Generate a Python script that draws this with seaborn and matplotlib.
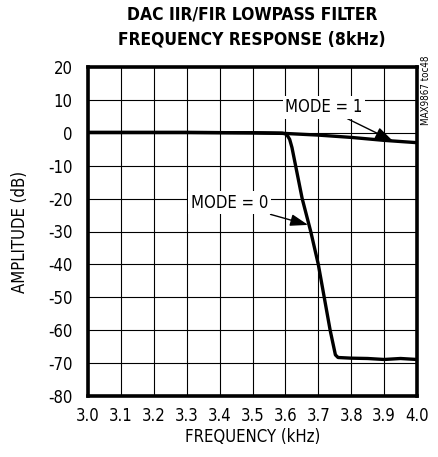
import matplotlib
matplotlib.use("Agg")
import matplotlib.pyplot as plt
import seaborn as sns
import pandas as pd

freq_mode1 = [3.00, 3.10, 3.20, 3.30, 3.40, 3.50, 3.60, 3.70, 3.80, 3.90, 4.00]
amp_mode1 = [0.1, 0.1, 0.1, 0.1, 0.05, 0.0, -0.2, -0.7, -1.4, -2.3, -3.0]

freq_mode0 = [3.00, 3.10, 3.20, 3.30, 3.40, 3.50, 3.59, 3.60, 3.607, 3.613, 3.62, 3.631, 3.651, 3.677,
              3.700, 3.718, 3.736, 3.752, 3.760, 3.80, 3.85, 3.90, 3.95, 4.00]
amp_mode0 = [0.1, 0.1, 0.1, 0.1, 0.05, 0.0, -0.1, -0.3, -1.0, -2.0, -4.5, -10.0, -20.0, -30.0,
             -40.0, -50.0, -60.0, -67.5, -68.3, -68.5, -68.6, -68.9, -68.6, -68.9]

x_ticks = [3.0, 3.1, 3.2, 3.3, 3.4, 3.5, 3.6, 3.7, 3.8, 3.9, 4.0]
y_ticks = [20, 10, 0, -10, -20, -30, -40, -50, -60, -70, -80]

df1 = pd.DataFrame({"f": freq_mode1, "a": amp_mode1})
df0 = pd.DataFrame({"f": freq_mode0, "a": amp_mode0})

sns.set_style("white")
plt.rcParams['font.family'] = ['DejaVu Sans']
plt.rcParams['font.stretch'] = 'condensed'
plt.rcParams['text.color'] = 'black'
plt.rcParams['axes.labelcolor'] = 'black'

fig = plt.figure(figsize=(4.38, 4.57), dpi=100)
ax = fig.add_axes([88/438, 1-396/457, (417-88)/438, (396-67)/457])

sns.lineplot(data=df1, x="f", y="a", ax=ax, color="black", linewidth=2.4)
sns.lineplot(data=df0, x="f", y="a", ax=ax, color="black", linewidth=2.4)

ax.set_xlim(3.0, 4.0)
ax.set_ylim(-80, 20)
ax.set_xticks(x_ticks)
ax.set_xticklabels([f"{v:.1f}" for v in x_ticks])
ax.set_yticks(y_ticks)
ax.set_yticklabels([str(v) for v in y_ticks])
ax.tick_params(axis="both", labelsize=12, length=0, colors="black")
ax.tick_params(axis="y", pad=11)
ax.tick_params(axis="x", pad=8)
ax.grid(True, color="black", linewidth=0.8)
ax.set_axisbelow(True)
for s in ax.spines.values():
    s.set_visible(True)
    s.set_linewidth(2.6)
    s.set_color("black")

ax.set_xlabel("FREQUENCY (kHz)", fontsize=12)
ax.set_ylabel("AMPLITUDE (dB)", fontsize=12)
ax.xaxis.set_label_coords(0.5, -(437 - 396) / 329, transform=ax.transAxes)
ax.yaxis.set_label_coords(-(88 - 20) / 329, 0.5, transform=ax.transAxes)
ax.xaxis.label.set_va("center")
ax.yaxis.label.set_va("center")

fig.text(252/438, 1-27/457, "DAC IIR/FIR LOWPASS FILTER\nFREQUENCY RESPONSE (8kHz)",
         ha="center", va="center", fontsize=12.5, fontweight="bold", linespacing=1.45)

ax.annotate("MODE = 1", xy=(3.927, -2.5), xytext=(3.717, 7.8),
            ha="center", va="center", fontsize=12,
            bbox=dict(boxstyle="square,pad=0.15", fc="white", ec="none"),
            arrowprops=dict(arrowstyle="-|>,head_length=0.9,head_width=0.3", color="black", lw=1.0,
                            shrinkA=0, shrinkB=0))
ax.annotate("MODE = 0", xy=(3.669, -28), xytext=(3.43, -21.3),
            ha="center", va="center", fontsize=12,
            bbox=dict(boxstyle="square,pad=0.15", fc="white", ec="none"),
            arrowprops=dict(arrowstyle="-|>,head_length=0.9,head_width=0.3", color="black", lw=1.0,
                            shrinkA=0, shrinkB=0))

fig.text(426/438, 1-90/457, "MAX9867 toc48", rotation=90, ha="center", va="center", fontsize=7)

fig.savefig("out.png", dpi=100)
